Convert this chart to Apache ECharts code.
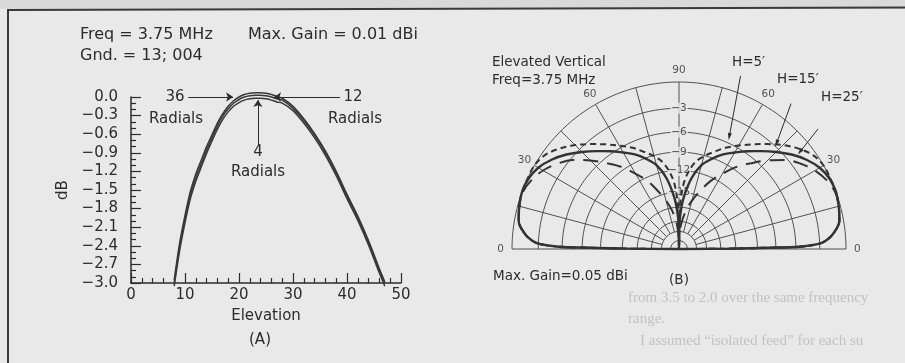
<!DOCTYPE html>
<html><head><meta charset="utf-8">
<script src="https://cdn.jsdelivr.net/npm/echarts@6/dist/echarts.min.js"></script>
<style>html,body{margin:0;padding:0;background:#e9e9e9}#c{width:905px;height:363px}</style>
</head><body><div id="c"></div>
<script>
// ---------- (A) gain vs elevation ----------
const elevationA = [8,9,10,11,12,13,14,15,16,17,18,19,20,21,22,23,24,25,26,27,28,30,32,34,36,38,40,42,44,46,47];
const radials36 = [-2.95,-2.36,-1.91,-1.52,-1.24,-1.02,-0.80,-0.61,-0.42,-0.27,-0.15,-0.06,0.0,0.04,0.06,0.07,0.07,0.06,0.04,0.01,-0.02,-0.15,-0.35,-0.59,-0.87,-1.20,-1.57,-1.92,-2.32,-2.77,-2.98];
const radials12 = [-3.0,-2.42,-1.97,-1.58,-1.30,-1.08,-0.86,-0.66,-0.47,-0.31,-0.19,-0.10,-0.04,0.0,0.02,0.03,0.03,0.02,0.0,-0.03,-0.05,-0.18,-0.38,-0.62,-0.90,-1.23,-1.60,-1.95,-2.35,-2.80,-3.0];
const radials4  = [-3.05,-2.48,-2.03,-1.64,-1.36,-1.13,-0.91,-0.71,-0.52,-0.36,-0.24,-0.15,-0.09,-0.05,-0.03,-0.02,-0.02,-0.03,-0.05,-0.08,-0.10,-0.22,-0.42,-0.66,-0.94,-1.27,-1.64,-1.99,-2.39,-2.84,-3.05];

// ---------- (B) elevated vertical, normalised plot radius vs elevation ----------
const elevationB = [0,0.4,0.8,1.1,2,3.2,5.8,10,15,20,25,30,35,40,45,50,55,60,65,70,75,80,85,88,89,90];
const h5  = [0,0.30,0.54,0.72,0.83,0.88,0.93,0.975,0.99,1.0,0.995,0.973,0.932,0.88,0.822,0.765,0.715,0.667,0.625,0.574,0.52,0.43,0.304,0.20,0.144,0];
const h15 = [0,0.30,0.54,0.72,0.83,0.88,0.93,0.975,0.99,1.0,1.0,1.0,0.98,0.935,0.88,0.82,0.765,0.715,0.67,0.62,0.575,0.52,0.42,0.30,0.22,0];
const h25 = [0,0.30,0.54,0.72,0.83,0.88,0.93,0.975,0.99,0.995,0.975,0.94,0.89,0.83,0.75,0.67,0.60,0.52,0.45,0.37,0.30,0.23,0.15,0.08,0.05,0];
const ringRadius = [1,0.843,0.70,0.58,0.47,0.34,0.25,0.165,0.105,0.05];
const ringLabels = ['','−3','−6','−9','−12','−15'];
const angleTickPos = [0,30,60,90,120,150,180];
const angleTickText = ['0','30','60','90','60','30','0'];

const BG = '#e9e9e9', INK = '#2c2c2c', GRID = '#505050', FONT = 'DejaVu Sans';
const chart = echarts.init(document.getElementById('c'));

function lobe(vals){
  const d = [];
  for (let i = 0; i < elevationB.length; i++) d.push([vals[i], elevationB[i]]);
  for (let i = elevationB.length - 1; i >= 0; i--) d.push([vals[i], 180 - elevationB[i]]);
  return d;
}
const ringAngles = []; for (let a = 0; a <= 180; a += 2) ringAngles.push(a);
const spokeAngles = []; for (let a = 0; a <= 180; a += 15) spokeAngles.push(a);

const polarGrid = [];
ringRadius.forEach(r => polarGrid.push({type:'line', coordinateSystem:'polar', data: ringAngles.map(a => [r, a]),
  symbol:'none', silent:true, animation:false, lineStyle:{color:GRID, width:1}, z:1}));
spokeAngles.forEach(a => polarGrid.push({type:'line', coordinateSystem:'polar',
  data: [[(a % 90 === 0) ? 0 : ringRadius[8], a], [1, a]],
  symbol:'none', silent:true, animation:false, lineStyle:{color:GRID, width:1}, z:1}));

function leader(from, to){
  const x1 = from[0]*Math.cos(from[1]*Math.PI/180), y1 = from[0]*Math.sin(from[1]*Math.PI/180);
  const x2 = to[0]*Math.cos(to[1]*Math.PI/180), y2 = to[0]*Math.sin(to[1]*Math.PI/180);
  const rot = Math.atan2(y2 - y1, x2 - x1) * 180 / Math.PI - 90;
  return {type:'line', coordinateSystem:'polar', clip:false, silent:true, animation:false, showSymbol:true, symbol:'none',
    data:[{value:from, symbol:'none'}, {value:to, symbol:'triangle', symbolSize:[4,7], symbolRotate:rot}],
    itemStyle:{color:INK}, lineStyle:{color:INK, width:1}, z:6};
}

const curveA = (name, vals) => ({name, type:'line', data: elevationA.map((x, i) => [x, vals[i]]),
  symbol:'none', smooth:0.3, clip:false, animation:false, lineStyle:{color:'#383838', width:1.5}, z:3});

const s36 = curveA('36 Radials', radials36);
s36.markLine = {silent:true, animation:false, symbol:['none','arrow'], symbolSize:7, label:{show:false},
  lineStyle:{color:INK, width:1, type:'solid'},
  data:[
    [{coord:[10.6, 0]}, {coord:[18.9, 0]}],
    [{coord:[38.7, 0]}, {coord:[26.5, 0]}],
    [{coord:[23.5, -0.77]}, {coord:[23.5, -0.05]}]
  ]};

const txt = (x, y, t, size, align, color, family) => ({type:'text', x, y, silent:true,
  style:{text:t, fill:color || INK, font: size + 'px "' + (family || FONT) + '"', textAlign: align || 'left', textVerticalAlign:'middle'}});
const ghost = (x, y, t) => txt(x, y, t, 15, 'left', '#c2c2c2', 'Liberation Serif');

const option = {
  backgroundColor: BG,
  animation: false,
  grid: {left:131, top:97, width:270, height:186, containLabel:false, outerBoundsMode:'none'},
  xAxis: {type:'value', min:0, max:50, interval:10,
    axisLine:{onZero:false, lineStyle:{color:INK, width:1.5}},
    axisTick:{inside:true, length:10, lineStyle:{color:INK, width:1.2}},
    minorTick:{show:true, splitNumber:5, length:5, lineStyle:{color:INK, width:1.2}},
    splitLine:{show:false},
    axisLabel:{color:INK, fontFamily:FONT, fontSize:15, margin:5},
    name:'Elevation', nameLocation:'middle', nameGap:26, nameTextStyle:{color:INK, fontFamily:FONT, fontSize:15}},
  yAxis: {type:'value', min:-3, max:0, interval:0.3,
    axisLine:{show:true, onZero:false, lineStyle:{color:INK, width:1.5}},
    axisTick:{show:true, inside:true, length:10, lineStyle:{color:INK, width:1.2}},
    minorTick:{show:true, splitNumber:3, length:5, lineStyle:{color:INK, width:1.2}},
    splitLine:{show:false},
    axisLabel:{color:INK, fontFamily:FONT, fontSize:15, margin:13,
      formatter: v => (Math.abs(v) < 1e-9 ? '0.0' : '−' + Math.abs(v).toFixed(1))},
    name:'dB', nameLocation:'middle', nameGap:60, nameRotate:90, nameTextStyle:{color:INK, fontFamily:FONT, fontSize:15}},
  polar: {center:[679, 249], radius:183.7},
  angleAxis: {type:'value', min:0, max:360, startAngle:0, clockwise:false, show:false},
  radiusAxis: {type:'value', min:0, max:1.1, show:false},
  series: [
    ...polarGrid,
    s36, curveA('12 Radials', radials12), curveA('4 Radials', radials4),
    {name:"H=5'", type:'line', coordinateSystem:'polar', data: lobe(h5), symbol:'none', smooth:0.35, animation:false,
      lineStyle:{color:'#333', width:2.4}, z:4},
    {name:"H=15'", type:'line', coordinateSystem:'polar', data: lobe(h15), symbol:'none', smooth:0.35, animation:false,
      lineStyle:{color:'#333', width:2, type:[6,4]}, z:4},
    {name:"H=25'", type:'line', coordinateSystem:'polar', data: lobe(h25), symbol:'none', smooth:0.35, animation:false,
      lineStyle:{color:'#333', width:2, type:[15,9]}, z:4},
    {type:'scatter', coordinateSystem:'polar', silent:true, animation:false, symbolSize:1, itemStyle:{color:'rgba(0,0,0,0)'},
      data: angleTickPos.map((a, i) => ({value:[1.068, a], label:{formatter: angleTickText[i]}})),
      label:{show:true, position:'inside', color:INK, fontFamily:FONT, fontSize:10.5}, z:5},
    {type:'scatter', coordinateSystem:'polar', silent:true, animation:false, symbolSize:1, itemStyle:{color:'rgba(0,0,0,0)'},
      data: ringLabels.map((t, i) => ({value:[ringRadius[i], 90], label:{formatter:t}})).filter(d => d.label.formatter),
      label:{show:true, position:'inside', color:INK, fontFamily:FONT, fontSize:10.5, backgroundColor:BG, padding:[0,1]}, z:3},
    leader([1.147, 70.8], [0.737, 65.9]),
    leader([1.2, 53.9], [0.862, 47.3]),
    leader([1.289, 42.4], [0.93, 38.8])
  ],
  graphic: [
    {type:'rect', shape:{x:0, y:0, width:905, height:9}, style:{fill:'#d9d9d9'}, silent:true},
    ghost(628, 298, 'from 3.5 to 2.0 over the same frequency'),
    ghost(628, 319, 'range.'),
    ghost(640, 341, 'I assumed “isolated feed” for each su'),
    {type:'polyline', shape:{points:[[8,363],[8,10],[905,7.5]]}, style:{stroke:'#3a3a3a', lineWidth:2, fill:null}, silent:true},
    txt(80, 35, 'Freq = 3.75 MHz', 16),
    txt(248, 35, 'Max. Gain = 0.01 dBi', 16),
    txt(80, 56, 'Gnd. = 13; 004', 16),
    txt(175, 97, '36', 15, 'center'),
    txt(176, 119, 'Radials', 15, 'center'),
    txt(353, 97, '12', 15, 'center'),
    txt(355, 119, 'Radials', 15, 'center'),
    txt(258, 152, '4', 15, 'center'),
    txt(258, 172, 'Radials', 15, 'center'),
    txt(260, 340, '(A)', 15, 'center'),
    txt(492, 62, 'Elevated Vertical', 13.5),
    txt(492, 80, 'Freq=3.75 MHz', 13.5),
    txt(732, 62, "H=5′", 13.5),
    txt(777, 79, "H=15′", 13.5),
    txt(821, 97, "H=25′", 13.5),
    txt(493, 276, 'Max. Gain=0.05 dBi', 13.5),
    txt(679, 280, '(B)', 13.5, 'center')
  ]
};
chart.setOption(option);
</script></body></html>
